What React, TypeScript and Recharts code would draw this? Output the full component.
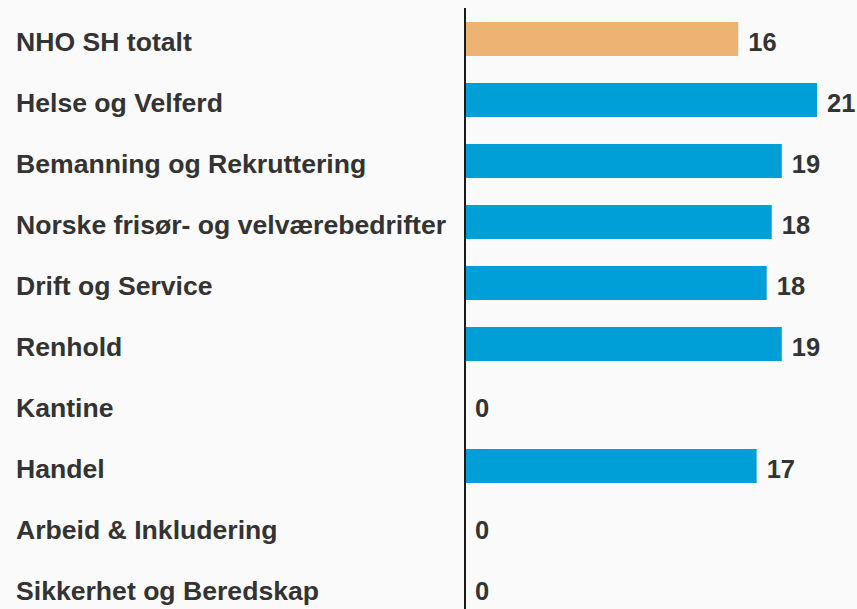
import { BarChart, Bar, XAxis, YAxis, Cell } from 'recharts'

const categories = [
  'NHO SH totalt',
  'Helse og Velferd',
  'Bemanning og Rekruttering',
  'Norske frisør- og velværebedrifter',
  'Drift og Service',
  'Renhold',
  'Kantine',
  'Handel',
  'Arbeid & Inkludering',
  'Sikkerhet og Beredskap',
]

const values = [16.3, 21.0, 18.9, 18.3, 18.0, 18.9, 0, 17.4, 0, 0]

const totalCategory = 'NHO SH totalt'

const data = categories.map((name, i) => ({ name, value: values[i] }))

const FONT = '"Liberation Sans", Arial, Helvetica, sans-serif'
const TEXT = '#333333'

function CategoryTick({ y, payload }: any) {
  return (
    <text
      x={16}
      y={y + 12.5}
      textAnchor="start"
      fill={TEXT}
      fontSize={26.6}
      fontWeight={700}
      fontFamily={FONT}
    >
      {payload.value}
    </text>
  )
}

// zero bars get a 1px invisible stub so their label is still drawn
function renderValueLabel(props: any) {
  const { x, y, width, height, value } = props
  const v = Number(value) || 0
  return (
    <text
      x={Number(x) + (v ? Number(width) : 0) + 10}
      y={Number(y) + Number(height) / 2 + 12}
      textAnchor="start"
      fill={TEXT}
      fontSize={25.5}
      fontWeight={700}
      fontFamily={FONT}
    >
      {Math.round(v)}
    </text>
  )
}

export default function App() {
  return (
    <div
      style={{
        position: 'fixed',
        top: 0,
        left: 0,
        width: 857,
        height: 609,
        overflow: 'hidden',
        background: '#fafafa',
      }}
    >
      <BarChart
        width={857}
        height={618}
        data={data}
        layout="vertical"
        margin={{ top: 8, right: 40, left: 0, bottom: 0 }}
      >
        <XAxis type="number" domain={[0, 21]} hide />
        <YAxis
          type="category"
          dataKey="name"
          width={465}
          tick={<CategoryTick />}
          tickLine={false}
          axisLine={{ stroke: '#1a1a1a', strokeWidth: 2 }}
          interval={0}
        />
        <Bar
          dataKey="value"
          barSize={34}
          isAnimationActive={false}
          minPointSize={(v: number) => (v === 0 ? 1 : 0)}
          label={renderValueLabel}
        >
          {data.map((d) => (
            <Cell
              key={d.name}
              fill={d.value === 0 ? 'none' : d.name === totalCategory ? '#edb372' : '#009fd7'}
            />
          ))}
        </Bar>
      </BarChart>
    </div>
  )
}
